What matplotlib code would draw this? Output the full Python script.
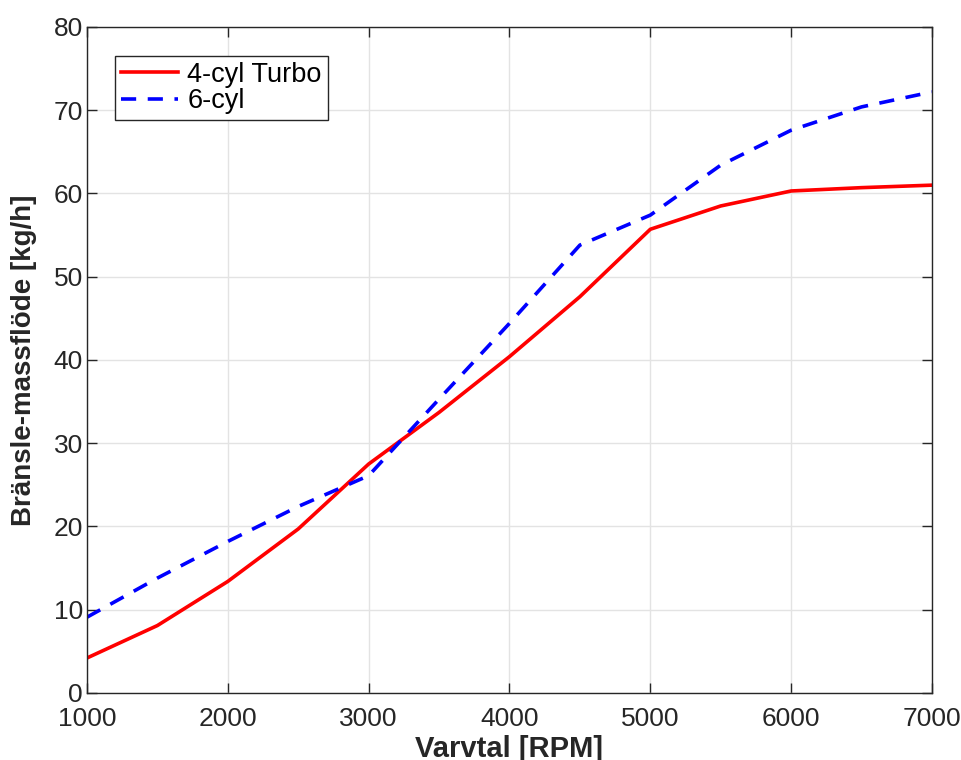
# Bränsleflöde mot varvtal, två motorer.
import matplotlib.pyplot as plt
import numpy as np

plt.rcParams['font.family'] = ['Liberation Sans', 'DejaVu Sans']

# Data
varvtal = [1000, 1500, 2000, 2500, 3000, 3500, 4000, 4500, 5000, 5500, 6000, 6500, 7000]
turbo4 = [4.2, 8.1, 13.4, 19.7, 27.5, 33.7, 40.4, 47.6, 55.7, 58.5, 60.3, 60.7, 61.0]
cyl6 = [9.1, 13.8, 18.2, 22.4, 26.1, 35.3, 44.4, 53.8, 57.4, 63.4, 67.6, 70.4, 72.2]

fig = plt.figure(figsize=(9.61, 7.6), dpi=100)
ax = fig.add_axes([0.0905, 0.0882, 0.8793, 0.8763])

ax.plot(varvtal, turbo4, "r-", lw=2.6, label="4-cyl Turbo")
ax.plot(varvtal, cyl6, "b--", lw=2.6, dashes=(4.2, 3.2), label="6-cyl")

ax.set_xlim(1000, 7000)
ax.set_ylim(0, 80)
ax.set_xticks(np.arange(1000, 7001, 1000))
ax.set_yticks(np.arange(0, 81, 10))

ax.grid(True, color="#e3e3e3", lw=1)
ax.set_axisbelow(True)
for s in ax.spines.values():
    s.set_color("#262626")
    s.set_linewidth(1)
ax.tick_params(direction="in", top=True, right=True, length=7, width=1,
               colors="#262626", labelsize=19, pad=3)
ax.tick_params(axis="x", pad=10)

# xlabel sitter lågt och klipps något i nederkant, som i originalet
ax.set_xlabel("Varvtal [RPM]", fontsize=21, fontweight="bold", labelpad=3,
              color="#262626")
ax.set_ylabel("Bränsle-massflöde [kg/h]", fontsize=20, fontweight="bold",
              labelpad=12, color="#262626")

leg = ax.legend(loc="upper left", bbox_to_anchor=(0.033, 0.957), fontsize=19.5,
                fancybox=False, framealpha=1, edgecolor="#262626",
                handlelength=2.1, borderpad=0.22, labelspacing=0.02,
                handletextpad=0.35, borderaxespad=0)
leg.get_frame().set_linewidth(1)

fig.savefig("out.png", dpi=100)
